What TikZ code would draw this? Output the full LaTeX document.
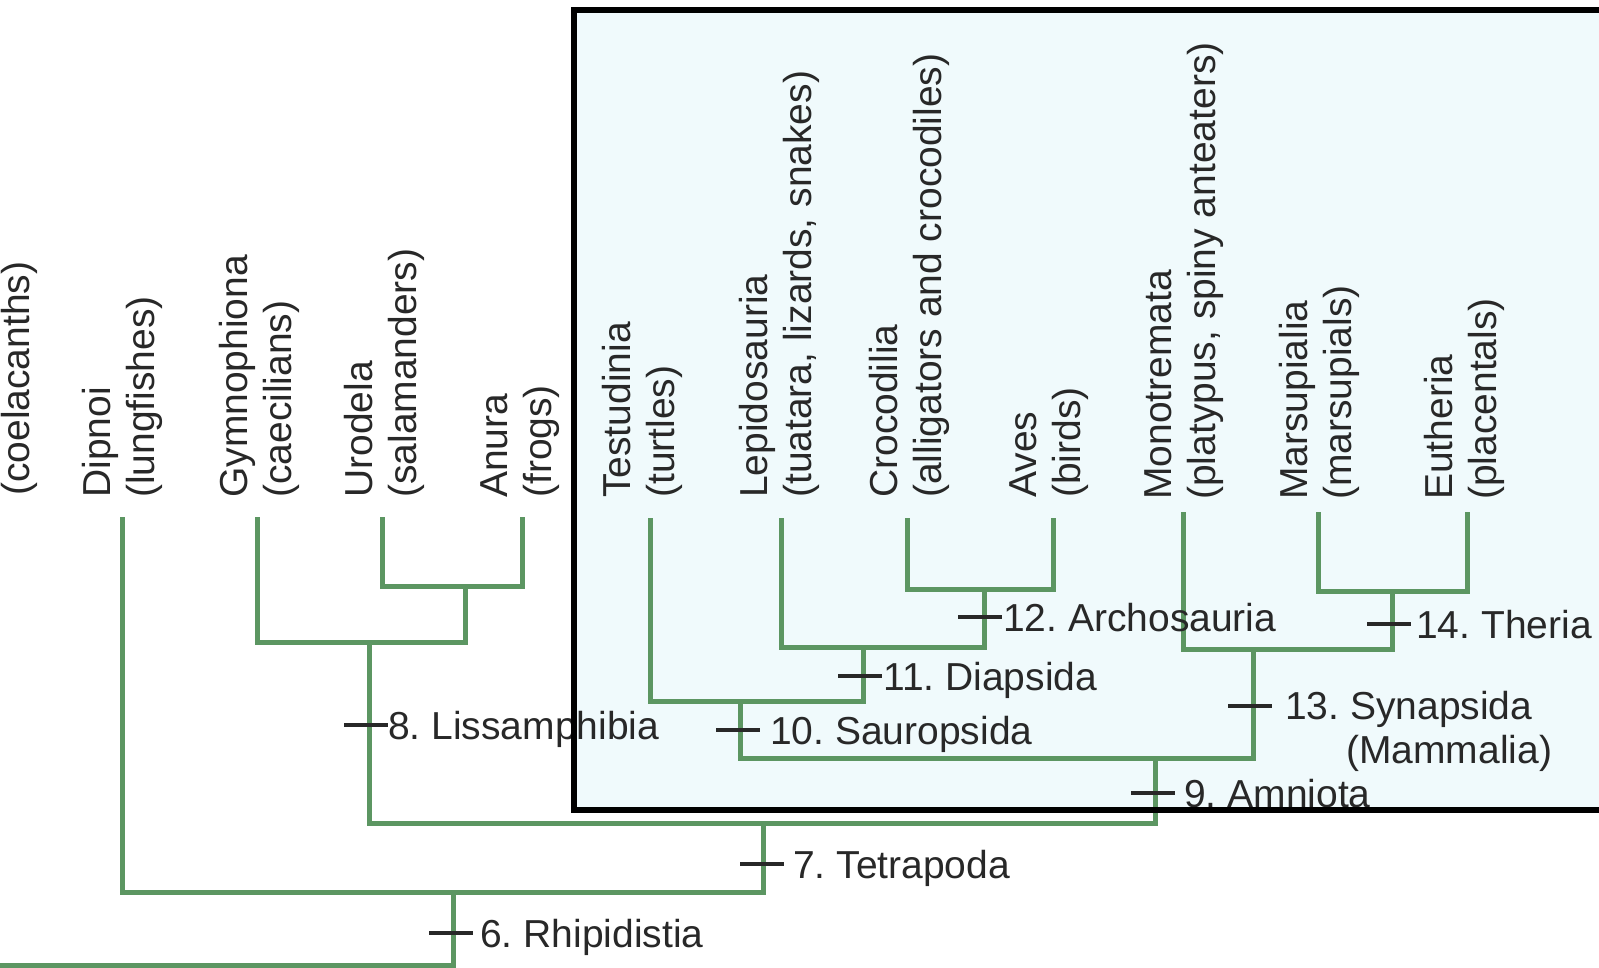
\documentclass[tikz,border=0pt]{standalone}
\usepackage{fontspec}
\setmainfont{Liberation Sans}
\definecolor{branchgreen}{RGB}{92,150,98}
\definecolor{boxfill}{RGB}{240,250,252}
\definecolor{txt}{RGB}{40,40,40}
\begin{document}
\frenchspacing
\begin{tikzpicture}[x=1pt,y=-1pt,
  branch/.style={draw=branchgreen,line width=5pt},
  tickmark/.style={draw=txt,line width=3.5pt},
  leaf/.style={rotate=90,anchor=west,align=left,inner sep=0pt,text=txt,font=\fontsize{39}{44}\selectfont\frenchspacing},
  clade/.style={anchor=base west,inner sep=0pt,text=txt,font=\fontsize{39}{44}\selectfont\frenchspacing,align=left},
  framebox/.style={draw=black,line width=6pt}]
\useasboundingbox (0,0) rectangle (1599,968);
\clip (0,0) rectangle (1599,968);
\fill[white] (0,0) rectangle (1599,968);
\fill[boxfill] (574,10) rectangle (1620,810);
% leaf tips
\coordinate (coel) at (-20,517);
\coordinate (dip) at (122,517);
\coordinate (gym) at (257,517);
\coordinate (uro) at (382,517);
\coordinate (anu) at (522,517);
\coordinate (tes) at (650,518);
\coordinate (lep) at (781,518);
\coordinate (cro) at (907,518);
\coordinate (ave) at (1053,518);
\coordinate (mon) at (1183,512);
\coordinate (mar) at (1318,512);
\coordinate (eut) at (1467,512);
% junctions
\coordinate (jua) at (465,586);
\coordinate (jliss) at (369,642);
\coordinate (jarch) at (984,589);
\coordinate (jdiap) at (863,647);
\coordinate (jsaur) at (740,701);
\coordinate (jth) at (1392,591);
\coordinate (jmam) at (1253,649);
\coordinate (jamn) at (1155,758);
\coordinate (jtet) at (763,823);
\coordinate (jrhip) at (453,892);
\coordinate (jroot) at (453,965);
% branches
\draw[branch] (uro) |- (anu |- jua) -- (anu);
\draw[branch] (gym) |- (jua |- jliss) -- (jua);
\draw[branch] (cro) |- (ave |- jarch) -- (ave);
\draw[branch] (lep) |- (jarch |- jdiap) -- (jarch);
\draw[branch] (tes) |- (jdiap |- jsaur) -- (jdiap);
\draw[branch] (mar) |- (eut |- jth) -- (eut);
\draw[branch] (mon) |- (jth |- jmam) -- (jth);
\draw[branch] (jsaur) |- (jmam |- jamn) -- (jmam);
\draw[branch] (jliss) |- (jamn |- jtet) -- (jamn);
\draw[branch] (dip) |- (jtet |- jrhip) -- (jtet);
\draw[branch] (coel) |- (jrhip |- jroot) -- (jrhip);
% ticks
\coordinate (t6) at (451,933);
\coordinate (t7) at (762,864);
\coordinate (t8) at (366,725);
\coordinate (t9) at (1153,793);
\coordinate (t10) at (738,730);
\coordinate (t11) at (860,676);
\coordinate (t12) at (980,617);
\coordinate (t13) at (1250,706);
\coordinate (t14) at (1389,624);
\foreach \t in {t6,t7,t8,t9,t10,t11,t12,t13,t14}
  \draw[tickmark] ([xshift=-22pt]\t) -- ([xshift=22pt]\t);
% clade labels
\node[clade] (l6) at (480,947) {6. Rhipidistia};
\node[clade] (l7) at (793,878) {7. Tetrapoda};
\node[clade] (l8) at (388,739) {8. Lissamphibia};
\node[clade] (l9) at (1184,807) {9. Amniota};
\node[clade] (l10) at (770,744) {10. Sauropsida};
\node[clade] (l11) at (883,690) {11. Diapsida};
\node[clade] (l12) at (1003,631) {12. Archosauria};
\node[clade,anchor=north west] (l13) at (1285,691) {13. Synapsida\\\hspace*{61pt}(Mammalia)};
\node[clade] (l14) at (1416,638) {14. Theria};
% leaf labels
\node[leaf,anchor=base west] (Lcoel) at (29,496) {(coelacanths)};
\node[leaf] (Ldip) at (122,498) {Dipnoi\\(lungfishes)};
\node[leaf] (Lgym) at (259,498) {Gymnophiona\\(caecilians)};
\node[leaf] (Luro) at (384,498) {Urodela\\(salamanders)};
\node[leaf] (Lanu) at (520,498) {Anura\\(frogs)};
\node[leaf] (Ltes) at (642,498) {Testudinia\\(turtles)};
\node[leaf] (Llep) at (779,498) {Lepidosauria\\(tuatara, lizards, snakes)};
\node[leaf] (Lcro) at (909,498) {Crocodilia\\(alligators and crocodiles)};
\node[leaf] (Lave) at (1049,498) {Aves\\(birds)};
\node[leaf] (Lmon) at (1184,500) {Monotremata\\(platypus, spiny anteaters)};
\node[leaf] (Lmar) at (1319,500) {Marsupialia\\(marsupials)};
\node[leaf] (Leut) at (1464,500) {Eutheria\\(placentals)};
% frame
\draw[framebox] (574,10) rectangle (1620,810);
\end{tikzpicture}
\end{document}
